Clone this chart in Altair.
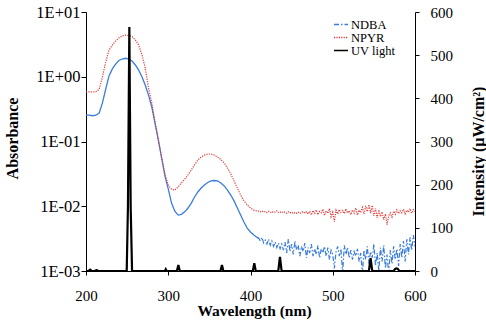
import altair as alt
import pandas as pd

# ---- data -------------------------------------------------------------
# wavelength grid (nm): 4 nm steps in the smooth part, 2 nm in the noisy tail
wl = list(range(200, 410, 4)) + list(range(410, 601, 2))

ndba = [
    # 200 - 408 nm (4 nm)
    0.256, 0.255, 0.250, 0.255, 0.275, 0.394, 0.647, 1.03, 1.32, 1.57,
    1.78, 1.88, 1.93, 1.88, 1.75, 1.52, 1.27, 1.00, 0.746, 0.52,
    0.341, 0.19, 0.105, 0.0556, 0.0292, 0.0185, 0.0112, 0.0084, 0.0073, 0.0075,
    0.0082, 0.0094, 0.0112, 0.0139, 0.0166, 0.0191, 0.0213, 0.0233, 0.0246, 0.0250,
    0.0246, 0.0229, 0.0206, 0.0178, 0.0149, 0.0121, 0.0094, 0.0073, 0.0057, 0.0046,
    0.0040, 0.0036, 0.0033,
    # 410 - 600 nm (2 nm)
    0.0032, 0.0029, 0.0033, 0.0027, 0.0030, 0.0026, 0.0031, 0.0025, 0.0029, 0.0024,
    0.0028, 0.0023, 0.0027, 0.0022, 0.0026, 0.0021, 0.0028, 0.0019, 0.0031, 0.0020,
    0.0026, 0.0018, 0.0029, 0.0021, 0.0025, 0.0017, 0.0024, 0.0020, 0.0027, 0.0016,
    0.0023, 0.0019, 0.0026, 0.0017, 0.0022, 0.0018, 0.0025, 0.0016, 0.0022, 0.0019,
    0.0024, 0.0017, 0.0023, 0.0015, 0.0021, 0.0018, 0.0011, 0.0020, 0.0024, 0.0017,
    0.0022, 0.0009, 0.0025, 0.0018, 0.0023, 0.0016, 0.0021, 0.0015, 0.0020, 0.0017,
    0.0022, 0.0014, 0.0019, 0.0009, 0.0021, 0.0015, 0.0024, 0.0013, 0.0020, 0.0016,
    0.0026, 0.0012, 0.0019, 0.0010, 0.0023, 0.0014, 0.0025, 0.0011, 0.0018, 0.0009,
    0.0021, 0.0013, 0.0024, 0.0015, 0.0022, 0.0012, 0.0026, 0.0016, 0.0029, 0.0014,
    0.0031, 0.0018, 0.0033, 0.0021, 0.0036, 0.0024,
]

npyr = [
    # 200 - 408 nm (4 nm)
    0.588, 0.585, 0.580, 0.590, 0.640, 0.990, 1.69, 2.59, 3.09, 3.56,
    3.97, 4.26, 4.41, 4.33, 4.17, 3.70, 3.09, 2.17, 1.365, 0.67,
    0.394, 0.193, 0.105, 0.0556, 0.0316, 0.0214, 0.0182, 0.0178, 0.0199, 0.0229,
    0.0263, 0.0304, 0.0363, 0.0434, 0.0518, 0.0575, 0.0617, 0.0641, 0.0641, 0.0617,
    0.0575, 0.0527, 0.0466, 0.0390, 0.0316, 0.0245, 0.0191, 0.0149, 0.0121, 0.0105,
    0.0094, 0.0087, 0.00845,
    # 410 - 600 nm (2 nm)
    0.0084, 0.0082, 0.0085, 0.0081, 0.0083, 0.0080, 0.0084, 0.0082, 0.0079, 0.0083,
    0.0081, 0.0085, 0.0080, 0.0082, 0.0079, 0.0083, 0.0080, 0.0078, 0.0082, 0.0079,
    0.0081, 0.0077, 0.0080, 0.0078, 0.0081, 0.0077, 0.0080, 0.0083, 0.0078, 0.0082,
    0.0076, 0.0084, 0.0073, 0.0086, 0.0078, 0.0088, 0.0074, 0.0083, 0.0079, 0.0090,
    0.0072, 0.0085, 0.0078, 0.0092, 0.0069, 0.0081, 0.0058, 0.0087, 0.0076, 0.0089,
    0.0080, 0.0086, 0.0077, 0.0091, 0.0079, 0.0085, 0.0074, 0.0088, 0.0078, 0.0094,
    0.0073, 0.0087, 0.0080, 0.0096, 0.0076, 0.0101, 0.0083, 0.0106, 0.0078, 0.0103,
    0.0071, 0.0092, 0.0066, 0.0088, 0.0069, 0.0082, 0.0062, 0.0076, 0.0052, 0.0071,
    0.0079, 0.0068, 0.0084, 0.0075, 0.0088, 0.0077, 0.0085, 0.0079, 0.0090, 0.0076,
    0.0087, 0.0081, 0.0092, 0.0078, 0.0089, 0.0083,
]

uv_wl = [200, 203, 205, 207, 210, 213, 215, 249.5, 251, 252.7, 254.3, 256,
         296, 297, 298, 310.5, 312.3, 314, 363.5, 365.3, 367,
         402.8, 404.6, 406.4, 433.8, 435.8, 437.8, 544, 546, 548,
         574, 576, 577.5, 579, 581, 600]
uv_int = [0, 0, 3, 0, 0, 2, 0, 0, 150, 565, 150, 0,
          0, 4, 0, 0, 14, 0, 0, 14, 0,
          0, 18, 0, 0, 33, 0, 0, 30, 0,
          0, 5, 6, 5, 0, 0]

series_names = ["NDBA", "NPYR", "UV light"]
series_colors = ["#3a7ddc", "#e23b3b", "#000000"]
series_dash = [[5, 2, 1.5, 2], [1.2, 1.2], [1, 0]]

# ---- tables -----------------------------------------------------------
abs_rows = []
for w, v in zip(wl, ndba):
    abs_rows.append({"wl": w, "val": v, "series": "NDBA"})
for w, v in zip(wl, npyr):
    abs_rows.append({"wl": w, "val": v, "series": "NPYR"})
abs_df = pd.DataFrame(abs_rows)
uv_df = pd.DataFrame({"wl": uv_wl, "intensity": uv_int, "series": "UV light"})

FONT = "Liberation Serif"

x_enc = alt.X(
    "wl:Q",
    scale=alt.Scale(domain=[200, 600], nice=False, zero=False),
    axis=alt.Axis(
        values=[200, 300, 400, 500, 600], title="Wavelength (nm)", grid=False,
        tickSize=4, labelPadding=13, labelFontSize=15, titleFontSize=15.5,
        labelFont=FONT, titleFont=FONT, labelFlush=False,
        titleX=168, titleY=39.5, titleBaseline="middle", titleAlign="center",
    ),
)

y_abs = alt.Y(
    "val:Q",
    scale=alt.Scale(type="log", domain=[0.001, 10]),
    axis=alt.Axis(
        values=[0.001, 0.01, 0.1, 1, 10], title="Absorbance", grid=False,
        labelExpr="'1E' + (datum.value >= 1 ? '+' : '-') + '0' + abs(round(log(datum.value) / LN10))",
        tickSize=5, labelPadding=1, labelFontSize=16.5, titleFontSize=16,
        labelFont=FONT, titleFont=FONT, labelFlush=False,
        titleAngle=270, titleX=-74, titleY=126, titleBaseline="middle", titleAlign="center",
    ),
)

legend = alt.Legend(
    title=None, orient="none", legendX=247, legendY=8, symbolType="stroke",
    symbolSize=196, symbolStrokeWidth=1.5, labelFont=FONT, labelFontSize=12.5,
    labelColor="black", labelOffset=2, rowPadding=0, padding=0, clipHeight=9,
)
color_enc = alt.Color("series:N", scale=alt.Scale(domain=series_names, range=series_colors), legend=legend)
dash_enc = alt.StrokeDash("series:N", scale=alt.Scale(domain=series_names, range=series_dash), legend=legend)

# NDBA smooth part, drawn solid as in the original
ndba_smooth = alt.Chart(abs_df).transform_filter(
    "datum.series == 'NDBA' && datum.wl <= 410"
).mark_line(clip=True, strokeWidth=1.3, color="#3a7ddc").encode(x=x_enc, y=y_abs)

# Noisy NDBA tail + NPYR with legend
abs_lines = alt.Chart(abs_df).transform_filter(
    "datum.series == 'NPYR' || datum.wl >= 408"
).mark_line(clip=True, strokeWidth=1.2).encode(
    x=x_enc, y=y_abs, color=color_enc, strokeDash=dash_enc, detail="series:N"
)

uv_line = alt.Chart(uv_df).mark_line(clip=False, strokeWidth=2.2).encode(
    x=x_enc,
    y=alt.Y(
        "intensity:Q",
        scale=alt.Scale(domain=[0, 600], nice=False),
        axis=alt.Axis(
            orient="right", values=[0, 100, 200, 300, 400, 500, 600],
            title="Intensity (μW/cm²)", grid=False, tickSize=4, labelPadding=11,
            labelFontSize=15, titleFontSize=16, labelFont=FONT, titleFont=FONT,
            labelFlush=False, titleAngle=270,
            titleX=63, titleY=139, titleBaseline="middle", titleAlign="center",
        ),
    ),
    color=color_enc, strokeDash=dash_enc,
)

chart = alt.layer(
    alt.layer(ndba_smooth, abs_lines), uv_line
).resolve_scale(y="independent").properties(
    width=329, height=259,
    autosize=alt.AutoSizeParams(type="none"),
    padding={"left": 86, "top": 12, "right": 71, "bottom": 56},
    background="white",
).configure_view(stroke=None).configure_axis(
    labelFont=FONT, titleFont=FONT, labelColor="black", titleColor="black",
    domainColor="black", tickColor="black", domainWidth=1, tickWidth=1,
    titleFontWeight="bold",
)

chart.save("out.html", embed_options={"renderer": "svg", "actions": False})
